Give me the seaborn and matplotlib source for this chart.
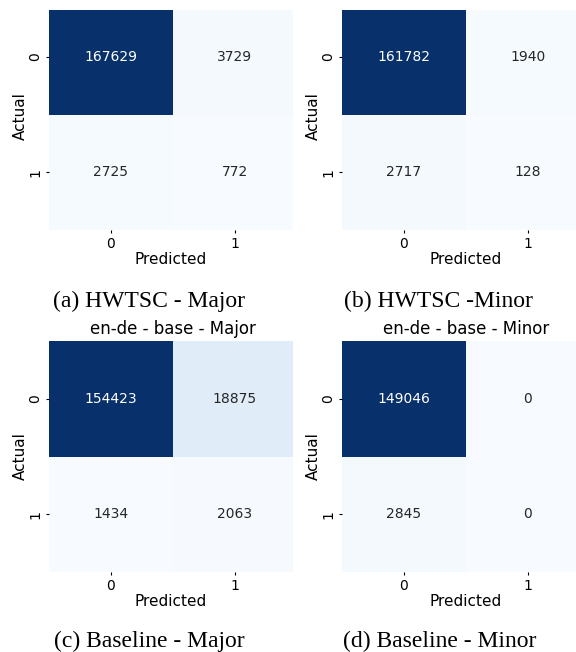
import numpy as np
import matplotlib
matplotlib.use("Agg")
import matplotlib.pyplot as plt
import seaborn as sns

# confusion matrices (rows = actual, cols = predicted)
HWTSC_MAJOR = [[167629, 3729], [2725, 772]]
HWTSC_MINOR = [[161782, 1940], [2717, 128]]
BASE_MAJOR = [[154423, 18875], [1434, 2063]]
BASE_MINOR = [[149046, 0], [2845, 0]]

LABELS = ["0", "1"]
CAPTIONS = ["(a) HWTSC - Major", "(b) HWTSC -Minor",
            "(c) Baseline - Major", "(d) Baseline - Minor"]
TITLES = [None, None, "en-de - base - Major", "en-de - base - Minor"]

W, H = 576, 652


def px_axes(fig, x0, y0, x1, y1):
    return fig.add_axes([x0 / W, 1 - y1 / H, (x1 - x0) / W, (y1 - y0) / H])


def draw(ax, cm, title, xmax, ytop):
    sns.heatmap(np.array(cm), annot=True, fmt="d", cmap="Blues", cbar=False,
                xticklabels=LABELS, yticklabels=LABELS, ax=ax,
                annot_kws={"size": 10})
    ax.set_xlim(0, xmax)
    ax.set_ylim(2, ytop)
    ax.set_xlabel("Predicted", fontsize=11, labelpad=1)
    ax.set_ylabel("Actual", fontsize=11, labelpad=0)
    ax.tick_params(labelsize=10, length=2.5, pad=2.5)
    if title:
        ax.set_title(title, fontsize=12, x=1.0 / xmax, pad=5)


fig = plt.figure(figsize=(W / 100, H / 100), dpi=100)

# top row is cropped at the top edge like the reference panels
ax_a = px_axes(fig, 49, 10, 293, 230)
draw(ax_a, HWTSC_MAJOR, TITLES[0], 1.968, 0.095)
ax_a.yaxis.label.set_y(0.52)

ax_b = px_axes(fig, 342, 10, 590, 230)
draw(ax_b, HWTSC_MINOR, TITLES[1], 2.0, 0.095)
ax_b.yaxis.label.set_y(0.52)

ax_c = px_axes(fig, 49, 341, 293, 572)
draw(ax_c, BASE_MAJOR, TITLES[2], 1.968, 0)

ax_d = px_axes(fig, 342, 341, 590, 572)
draw(ax_d, BASE_MINOR, TITLES[3], 2.0, 0)

serif = ["Liberation Serif", "DejaVu Serif"]
for (cx, by), cap in zip([(149, 307), (438, 307), (149, 647), (440, 647)], CAPTIONS):
    fig.text(cx / W, 1 - by / H, cap, ha="center", va="baseline",
             fontsize=17, family=serif)

fig.savefig("out.png", dpi=100)
